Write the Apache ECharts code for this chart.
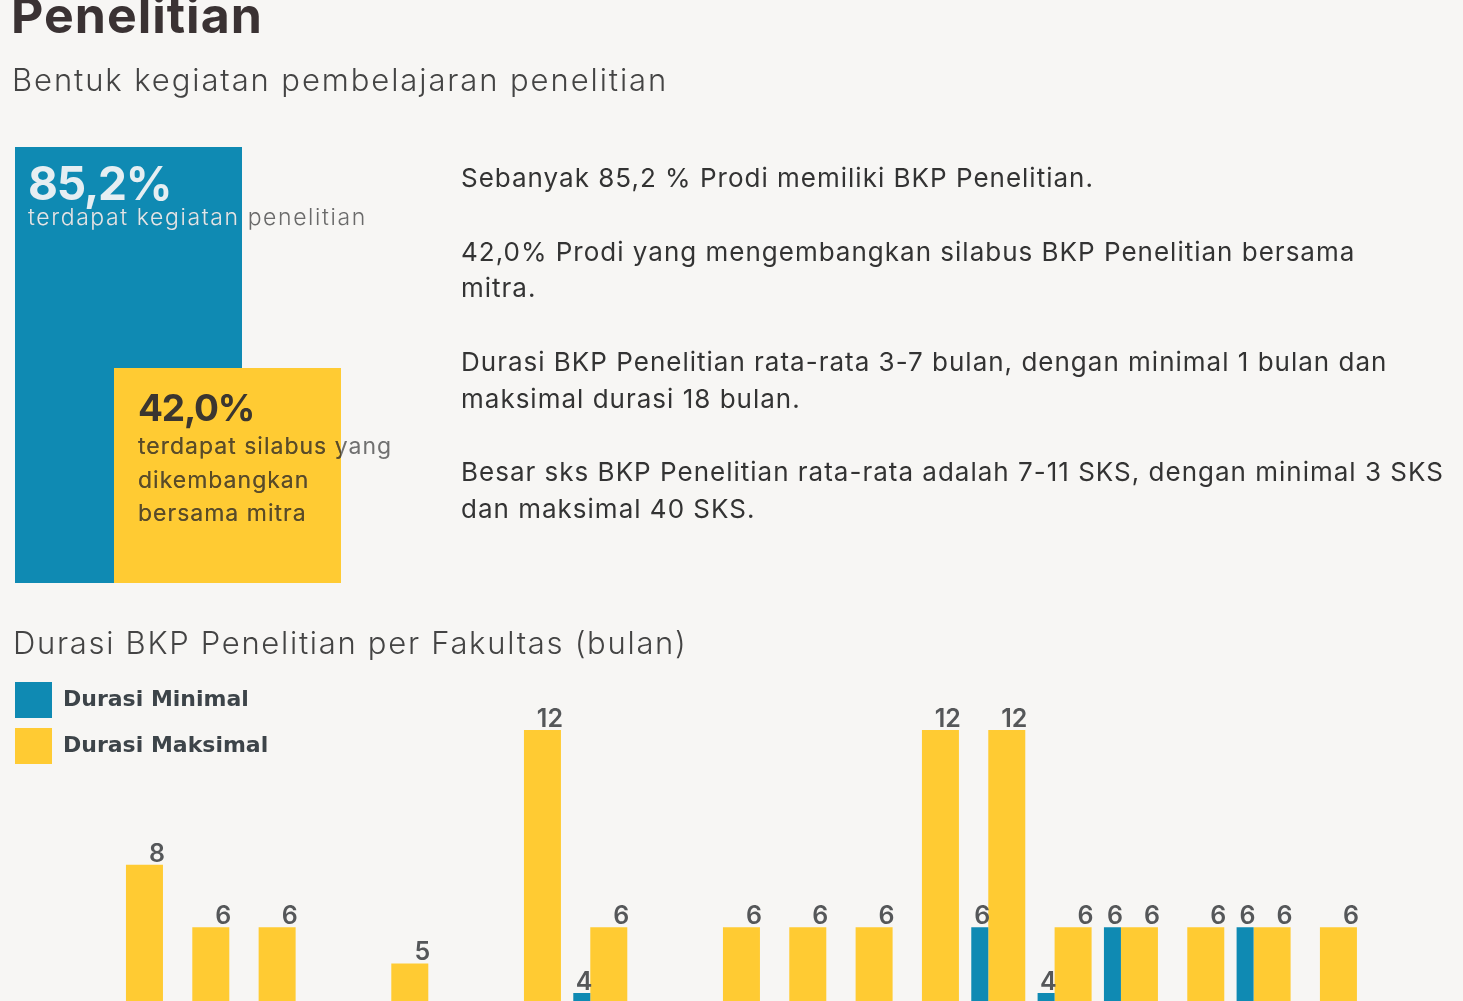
<!DOCTYPE html>
<html>
<head>
<meta charset="utf-8">
<script src="https://cdn.jsdelivr.net/npm/echarts@6/dist/echarts.min.js"></script>
<style>
  html, body { margin: 0; padding: 0; background: #f7f6f4; overflow: hidden; }
  body { width: 1463px; height: 1001px; position: relative; font-family: Inter, "Open Sans", sans-serif; }
  #chart { position: absolute; left: 0; top: 0; width: 1463px; height: 1200px; }
  .t { position: absolute; white-space: nowrap; }
  .clip { position: absolute; overflow: hidden; }
</style>
</head>
<body>
<div id="chart"></div>

<div class="t" style="left:11px;top:-15px;font-size:50px;font-weight:700;color:#3a3233;line-height:60px;letter-spacing:1px;">Penelitian</div>
<div class="t" style="left:12px;top:60px;font-size:31px;font-weight:300;color:#444;line-height:40px;letter-spacing:1.9px;">Bentuk kegiatan pembelajaran penelitian</div>

<!-- labels on the top bars: grey copy under, clipped copy on the bar -->
<div class="t" style="left:28px;top:203px;font-size:23px;font-weight:300;color:#6a6a6a;line-height:28px;letter-spacing:1.6px;">terdapat kegiatan penelitian</div>
<div class="clip" style="left:15px;top:147px;width:227px;height:222px;">
  <div class="t" style="left:13px;top:8px;font-size:46px;font-weight:700;color:#e6eef2;line-height:56px;letter-spacing:-1.2px;">85,2%</div>
  <div class="t" style="left:13px;top:56px;font-size:23px;font-weight:300;color:#dbe9ef;line-height:28px;letter-spacing:1.6px;">terdapat kegiatan penelitian</div>
</div>
<div class="t" style="left:138px;top:430px;font-size:23px;font-weight:400;color:#707070;line-height:33.5px;letter-spacing:1px;">terdapat silabus yang<br>dikembangkan<br>bersama mitra</div>
<div class="clip" style="left:114px;top:369px;width:227px;height:214px;">
  <div class="t" style="left:24px;top:14px;font-size:37px;font-weight:700;color:#3b3630;line-height:50px;letter-spacing:-1.2px;">42,0%</div>
  <div class="t" style="left:24px;top:61px;font-size:23px;font-weight:400;color:#5c4b22;line-height:33.5px;letter-spacing:1px;">terdapat silabus yang<br>dikembangkan<br>bersama mitra</div>
</div>

<div class="t" style="left:461px;top:160px;font-size:26px;font-weight:400;color:#333;line-height:36.8px;letter-spacing:1px;">Sebanyak 85,2 % Prodi memiliki BKP Penelitian.<br><br>42,0% Prodi yang mengembangkan silabus BKP Penelitian bersama<br>mitra.<br><br>Durasi BKP Penelitian rata-rata 3-7 bulan, dengan minimal 1 bulan dan<br>maksimal durasi 18 bulan.<br><br>Besar sks BKP Penelitian rata-rata adalah 7-11 SKS, dengan minimal 3 SKS<br>dan maksimal 40 SKS.</div>

<div class="t" style="left:13px;top:623px;font-size:31px;font-weight:300;color:#444;line-height:40px;letter-spacing:1.7px;">Durasi BKP Penelitian per Fakultas (bulan)</div>

<script>
// persentase prodi (bar atas)
const ringkasanNama = ['Kegiatan penelitian', 'Silabus bersama mitra'];
const ringkasanNilai = [85.2, 42.0];

// durasi per fakultas (bulan)
const fakultas = ['F1','F2','F3','F4','F5','F6','F7','F8','F9','F10',
                  'F11','F12','F13','F14','F15','F16','F17','F18','F19'];
const durasiMinimal  = [null,null,null,null,null,null,null,4,null,null,
                        null,null,null,6,4,6,null,6,null];
const durasiMaksimal = [7.9,6,6,null,4.9,null,12,6,null,6,
                        6,6,12,12,6,6,6,6,6];

const BIRU = '#0f8ab3';
const KUNING = '#ffcb33';

const chart = echarts.init(document.getElementById('chart'));

const barLabel = {
  show: true,
  position: ['100%', 0],
  align: 'right',
  verticalAlign: 'bottom',
  offset: [2, 2],
  fontFamily: 'Inter, sans-serif',
  fontSize: 25,
  fontWeight: 600,
  color: '#555759',
  formatter: function (p) { return p.value == null ? '' : Math.round(p.value); }
};

chart.setOption({
  animation: false,
  legend: {
    data: ['Durasi Minimal', 'Durasi Maksimal'],
    orient: 'vertical',
    left: 15,
    top: 682,
    padding: 0,
    itemWidth: 37,
    itemHeight: 36,
    itemGap: 10,
    icon: 'rect',
    textStyle: {
      fontFamily: '"DejaVu Sans", sans-serif',
      fontSize: 22,
      fontWeight: 'bold',
      color: '#3d4449',
      padding: [4, 0, 0, 6]
    }
  },
  grid: [
    { left: 15, width: 227, top: 71.3, bottom: 617 },
    { left: 114, width: 227, top: 71.3, bottom: 617 },
    { left: 102.8, right: 99.9, top: 730, bottom: 75.5 }
  ],
  xAxis: [
    { gridIndex: 0, type: 'category', data: [ringkasanNama[0]], show: false },
    { gridIndex: 1, type: 'category', data: [ringkasanNama[1]], show: false },
    { gridIndex: 2, type: 'category', data: fakultas, show: false }
  ],
  yAxis: [
    { gridIndex: 0, type: 'value', min: 0, max: 100, show: false },
    { gridIndex: 1, type: 'value', min: 0, max: 100, show: false },
    { gridIndex: 2, type: 'value', min: 0, max: 12, show: false }
  ],
  series: [
    {
      name: ringkasanNama[0], type: 'bar', xAxisIndex: 0, yAxisIndex: 0,
      barWidth: '100%', itemStyle: { color: BIRU }, z: 1,
      data: [ringkasanNilai[0]]
    },
    {
      name: ringkasanNama[1], type: 'bar', xAxisIndex: 1, yAxisIndex: 1,
      barWidth: '100%', itemStyle: { color: KUNING }, z: 2,
      data: [ringkasanNilai[1]]
    },
    {
      name: 'Durasi Minimal', type: 'bar', xAxisIndex: 2, yAxisIndex: 2,
      barWidth: 17, barGap: '0%', itemStyle: { color: BIRU },
      label: barLabel, z: 3,
      data: durasiMinimal
    },
    {
      name: 'Durasi Maksimal', type: 'bar', xAxisIndex: 2, yAxisIndex: 2,
      barWidth: 37, barGap: '0%', itemStyle: { color: KUNING },
      label: barLabel, z: 2,
      data: durasiMaksimal
    }
  ]
});
</script>
</body>
</html>
